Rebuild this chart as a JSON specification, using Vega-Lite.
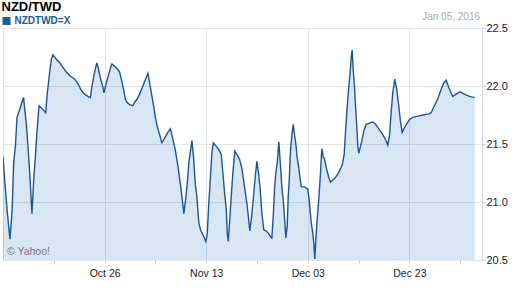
{
  "$schema": "https://vega.github.io/schema/vega-lite/v6.json",
  "width": 479,
  "height": 232,
  "autosize": {"type": "none"},
  "padding": {"left": 3, "top": 28, "right": 30, "bottom": 28},
  "background": "#ffffff",
  "datasets": {
    "rates": [
      {"t": 0.00, "v": 21.39}, {"t": 0.33, "v": 21.11}, {"t": 0.61, "v": 20.90}, {"t": 0.96, "v": 20.68},
      {"t": 1.24, "v": 20.91}, {"t": 1.47, "v": 21.34}, {"t": 1.71, "v": 21.48}, {"t": 1.93, "v": 21.73},
      {"t": 2.30, "v": 21.80}, {"t": 2.62, "v": 21.86}, {"t": 2.85, "v": 21.90}, {"t": 2.99, "v": 21.80},
      {"t": 3.22, "v": 21.67}, {"t": 3.44, "v": 21.48}, {"t": 3.68, "v": 21.25}, {"t": 3.91, "v": 20.99},
      {"t": 3.99, "v": 20.90}, {"t": 4.23, "v": 21.19}, {"t": 4.46, "v": 21.39}, {"t": 4.68, "v": 21.60},
      {"t": 4.96, "v": 21.83}, {"t": 5.29, "v": 21.81}, {"t": 5.60, "v": 21.79}, {"t": 5.88, "v": 21.77},
      {"t": 6.11, "v": 21.94}, {"t": 6.43, "v": 22.12}, {"t": 6.66, "v": 22.23}, {"t": 6.89, "v": 22.27},
      {"t": 7.35, "v": 22.23}, {"t": 7.81, "v": 22.20}, {"t": 8.26, "v": 22.16}, {"t": 8.73, "v": 22.12},
      {"t": 9.18, "v": 22.09}, {"t": 9.87, "v": 22.06}, {"t": 10.33, "v": 22.02}, {"t": 10.80, "v": 21.96},
      {"t": 11.25, "v": 21.93}, {"t": 11.70, "v": 21.91}, {"t": 12.04, "v": 21.90}, {"t": 12.26, "v": 22.00},
      {"t": 12.53, "v": 22.09}, {"t": 12.77, "v": 22.16}, {"t": 12.94, "v": 22.20}, {"t": 13.18, "v": 22.14},
      {"t": 13.45, "v": 22.06}, {"t": 13.77, "v": 21.99}, {"t": 13.91, "v": 21.94}, {"t": 14.24, "v": 22.03},
      {"t": 14.56, "v": 22.10}, {"t": 14.83, "v": 22.16}, {"t": 15.01, "v": 22.19}, {"t": 15.38, "v": 22.17},
      {"t": 15.84, "v": 22.14}, {"t": 16.07, "v": 22.12}, {"t": 16.30, "v": 22.06}, {"t": 16.62, "v": 21.97},
      {"t": 16.85, "v": 21.89}, {"t": 17.08, "v": 21.86}, {"t": 17.45, "v": 21.84}, {"t": 17.90, "v": 21.83},
      {"t": 18.14, "v": 21.86}, {"t": 18.51, "v": 21.89}, {"t": 18.82, "v": 21.93}, {"t": 19.28, "v": 22.00},
      {"t": 19.65, "v": 22.06}, {"t": 19.97, "v": 22.11}, {"t": 20.20, "v": 22.03}, {"t": 20.44, "v": 21.94},
      {"t": 20.75, "v": 21.83}, {"t": 20.99, "v": 21.73}, {"t": 21.26, "v": 21.65}, {"t": 21.58, "v": 21.58},
      {"t": 21.89, "v": 21.51}, {"t": 22.27, "v": 21.55}, {"t": 22.72, "v": 21.60}, {"t": 23.05, "v": 21.63},
      {"t": 23.19, "v": 21.60}, {"t": 23.41, "v": 21.54}, {"t": 23.74, "v": 21.45}, {"t": 24.10, "v": 21.31},
      {"t": 24.43, "v": 21.16}, {"t": 24.70, "v": 21.02}, {"t": 24.92, "v": 20.90}, {"t": 25.16, "v": 21.02},
      {"t": 25.39, "v": 21.16}, {"t": 25.61, "v": 21.34}, {"t": 25.85, "v": 21.45}, {"t": 26.03, "v": 21.53},
      {"t": 26.26, "v": 21.38}, {"t": 26.49, "v": 21.16}, {"t": 26.71, "v": 21.05}, {"t": 26.85, "v": 20.93},
      {"t": 26.99, "v": 20.82}, {"t": 27.22, "v": 20.76}, {"t": 27.46, "v": 20.73}, {"t": 27.68, "v": 20.70},
      {"t": 27.95, "v": 20.66}, {"t": 28.15, "v": 20.73}, {"t": 28.33, "v": 20.96}, {"t": 28.56, "v": 21.19},
      {"t": 28.78, "v": 21.42}, {"t": 28.97, "v": 21.51}, {"t": 29.39, "v": 21.48}, {"t": 29.74, "v": 21.45},
      {"t": 30.07, "v": 21.41}, {"t": 30.30, "v": 21.25}, {"t": 30.53, "v": 21.08}, {"t": 30.77, "v": 20.93},
      {"t": 30.90, "v": 20.73}, {"t": 31.04, "v": 20.66}, {"t": 31.22, "v": 20.83}, {"t": 31.45, "v": 21.05},
      {"t": 31.67, "v": 21.25}, {"t": 31.95, "v": 21.44}, {"t": 32.22, "v": 21.41}, {"t": 32.59, "v": 21.37},
      {"t": 32.91, "v": 21.29}, {"t": 33.28, "v": 21.13}, {"t": 33.60, "v": 20.99}, {"t": 33.83, "v": 20.86},
      {"t": 34.01, "v": 20.75}, {"t": 34.25, "v": 20.87}, {"t": 34.52, "v": 21.05}, {"t": 34.76, "v": 21.22},
      {"t": 34.98, "v": 21.35}, {"t": 35.21, "v": 21.25}, {"t": 35.44, "v": 21.11}, {"t": 35.67, "v": 20.90},
      {"t": 35.94, "v": 20.76}, {"t": 36.27, "v": 20.75}, {"t": 36.59, "v": 20.73}, {"t": 36.86, "v": 20.70},
      {"t": 37.04, "v": 20.69}, {"t": 37.23, "v": 20.87}, {"t": 37.41, "v": 21.11}, {"t": 37.59, "v": 21.25},
      {"t": 37.79, "v": 21.34}, {"t": 38.01, "v": 21.52}, {"t": 38.20, "v": 21.34}, {"t": 38.42, "v": 21.13},
      {"t": 38.65, "v": 20.99}, {"t": 38.83, "v": 20.83}, {"t": 38.97, "v": 20.69}, {"t": 39.16, "v": 20.79},
      {"t": 39.30, "v": 21.05}, {"t": 39.44, "v": 21.19}, {"t": 39.62, "v": 21.45}, {"t": 39.85, "v": 21.60},
      {"t": 39.99, "v": 21.67}, {"t": 40.17, "v": 21.58}, {"t": 40.35, "v": 21.50}, {"t": 40.54, "v": 21.38},
      {"t": 40.72, "v": 21.31}, {"t": 40.90, "v": 21.22}, {"t": 41.09, "v": 21.13}, {"t": 41.55, "v": 21.13},
      {"t": 42.00, "v": 21.11}, {"t": 42.23, "v": 20.99}, {"t": 42.47, "v": 20.82}, {"t": 42.69, "v": 20.73},
      {"t": 42.83, "v": 20.64}, {"t": 42.96, "v": 20.51}, {"t": 43.10, "v": 20.67}, {"t": 43.29, "v": 20.85},
      {"t": 43.47, "v": 20.99}, {"t": 43.61, "v": 21.12}, {"t": 43.75, "v": 21.25}, {"t": 43.93, "v": 21.46},
      {"t": 44.12, "v": 21.39}, {"t": 44.30, "v": 21.37}, {"t": 44.57, "v": 21.29}, {"t": 44.85, "v": 21.22},
      {"t": 45.13, "v": 21.17}, {"t": 45.44, "v": 21.19}, {"t": 45.81, "v": 21.21}, {"t": 46.23, "v": 21.25},
      {"t": 46.74, "v": 21.32}, {"t": 47.01, "v": 21.41}, {"t": 47.19, "v": 21.60}, {"t": 47.37, "v": 21.77},
      {"t": 47.61, "v": 21.97}, {"t": 47.84, "v": 22.12}, {"t": 47.98, "v": 22.25}, {"t": 48.11, "v": 22.31},
      {"t": 48.25, "v": 22.14}, {"t": 48.43, "v": 22.00}, {"t": 48.57, "v": 21.83}, {"t": 48.75, "v": 21.65},
      {"t": 48.88, "v": 21.49}, {"t": 49.02, "v": 21.42}, {"t": 49.26, "v": 21.48}, {"t": 49.49, "v": 21.54},
      {"t": 49.71, "v": 21.61}, {"t": 50.04, "v": 21.67}, {"t": 50.50, "v": 21.68}, {"t": 50.95, "v": 21.69},
      {"t": 51.33, "v": 21.67}, {"t": 51.78, "v": 21.63}, {"t": 52.25, "v": 21.59}, {"t": 52.70, "v": 21.54},
      {"t": 53.02, "v": 21.49}, {"t": 53.25, "v": 21.57}, {"t": 53.48, "v": 21.77}, {"t": 53.70, "v": 21.94},
      {"t": 53.98, "v": 22.06}, {"t": 54.25, "v": 21.97}, {"t": 54.53, "v": 21.83}, {"t": 54.76, "v": 21.70},
      {"t": 55.00, "v": 21.60}, {"t": 55.31, "v": 21.64}, {"t": 55.69, "v": 21.68}, {"t": 56.00, "v": 21.71},
      {"t": 56.46, "v": 21.73}, {"t": 57.15, "v": 21.74}, {"t": 57.84, "v": 21.75}, {"t": 58.66, "v": 21.76},
      {"t": 58.99, "v": 21.77}, {"t": 59.45, "v": 21.83}, {"t": 59.90, "v": 21.89}, {"t": 60.37, "v": 21.97},
      {"t": 60.68, "v": 22.02}, {"t": 61.06, "v": 22.05}, {"t": 61.41, "v": 21.99}, {"t": 61.75, "v": 21.94},
      {"t": 61.97, "v": 21.91}, {"t": 62.43, "v": 21.93}, {"t": 62.99, "v": 21.95}, {"t": 63.58, "v": 21.93},
      {"t": 64.27, "v": 21.91}, {"t": 65.00, "v": 21.90}
    ]
  },
  "data": {"name": "rates"},
  "layer": [
    {
      "mark": {"type": "area", "fill": "#4d8ec7", "fillOpacity": 0.22, "clip": true},
      "encoding": {
        "x": {"field": "t", "type": "quantitative"},
        "y": {"field": "v", "type": "quantitative"},
        "y2": {"datum": 20.5}
      }
    },
    {
      "mark": {"type": "line", "strokeWidth": 1.4, "clip": true},
      "encoding": {
        "x": {
          "field": "t",
          "type": "quantitative",
          "scale": {"domain": [0, 66], "nice": false, "zero": false},
          "axis": {
            "title": null,
            "orient": "bottom",
            "values": [7, 14, 21, 28, 35, 42, 49, 56, 63],
            "labelExpr": "datum.value == 14 ? 'Oct 26' : datum.value == 28 ? 'Nov 13' : datum.value == 42 ? 'Dec 03' : datum.value == 56 ? 'Dec 23' : ''",
            "domain": false,
            "tickSize": 3,
            "tickColor": "#c8c8c8",
            "labelPadding": 5,
            "labelFont": "Liberation Sans",
            "labelFontSize": 10.5,
            "labelColor": "#222222",
            "grid": true,
            "gridColor": "#dfe5ec",
            "gridOpacity": {"condition": {"test": "datum.value % 14 == 0", "value": 1}, "value": 0}
          }
        },
        "y": {
          "field": "v",
          "type": "quantitative",
          "scale": {"domain": [20.5, 22.5], "nice": false, "zero": false},
          "axis": {
            "title": null,
            "orient": "right",
            "values": [20.5, 21, 21.5, 22, 22.5],
            "format": ".1f",
            "domain": true,
            "domainColor": "#d8d8d8",
            "tickSize": 3,
            "tickColor": "#c8c8c8",
            "labelPadding": 1,
            "labelFont": "Liberation Sans",
            "labelFontSize": 11,
            "labelColor": "#222222",
            "grid": true,
            "gridColor": "#e3e6ea"
          }
        },
        "color": {
          "datum": "NZDTWD=X",
          "type": "nominal",
          "scale": {"range": ["#1c5591"]},
          "legend": {
            "title": null,
            "orient": "none",
            "legendX": -1.5,
            "legendY": -12,
            "padding": 0,
            "symbolType": "square",
            "symbolSize": 64,
            "symbolFillColor": "#1f5b94",
            "symbolStrokeColor": "#1f5b94",
            "symbolStrokeWidth": 0,
            "labelFont": "Liberation Sans",
            "labelFontSize": 10,
            "labelFontWeight": "bold",
            "labelColor": "#1f5b94",
            "labelOffset": 3
          }
        }
      }
    },
    {
      "data": {"values": [{"label": "NZD/TWD"}]},
      "mark": {"type": "text", "align": "left", "baseline": "alphabetic", "dx": -1.5, "dy": -17, "font": "Liberation Sans", "fontSize": 13, "fontWeight": "bold", "color": "#000000"},
      "encoding": {
        "x": {"datum": 0, "type": "quantitative"},
        "y": {"datum": 22.5, "type": "quantitative"},
        "text": {"field": "label"}
      }
    },
    {
      "data": {"values": [{"label": "© Yahoo!"}]},
      "mark": {"type": "text", "align": "left", "baseline": "alphabetic", "dx": 4, "dy": -5, "font": "Liberation Sans", "fontSize": 10.5, "color": "#7a7a7a"},
      "encoding": {
        "x": {"datum": 0, "type": "quantitative"},
        "y": {"datum": 20.5, "type": "quantitative"},
        "text": {"field": "label"}
      }
    },
    {
      "data": {"values": [{"label": "Jan 05, 2016"}]},
      "mark": {"type": "text", "align": "right", "baseline": "alphabetic", "dx": -2, "dy": -8, "font": "Liberation Sans", "fontSize": 10, "color": "#a8a8a8"},
      "encoding": {
        "x": {"datum": 66, "type": "quantitative"},
        "y": {"datum": 22.5, "type": "quantitative"},
        "text": {"field": "label"}
      }
    }
  ],
  "config": {
    "font": "Liberation Sans",
    "view": {"stroke": "#dcdcdc"}
  }
}
